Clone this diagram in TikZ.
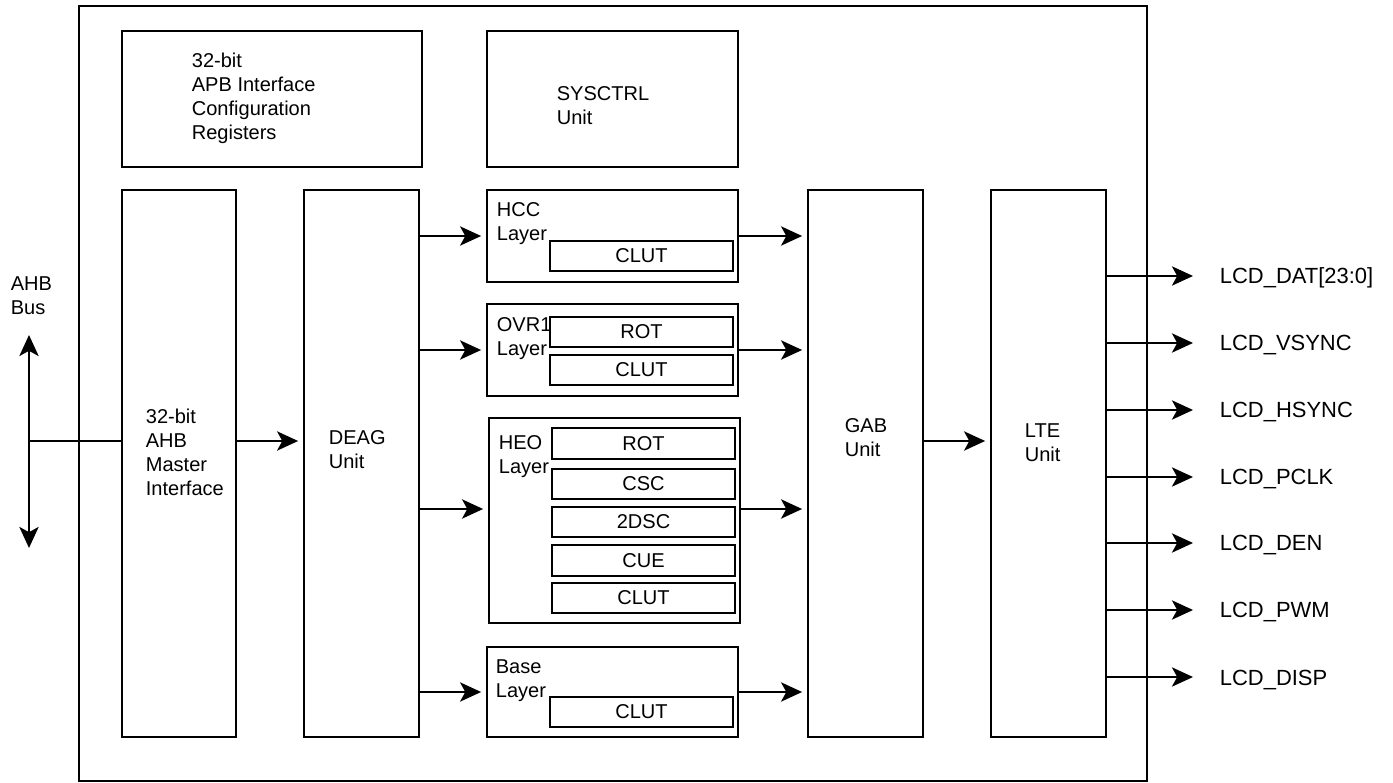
\documentclass[tikz,border=0pt]{standalone}
\usepackage{fontspec}
\setmainfont{Liberation Sans}
\usetikzlibrary{arrows.meta,positioning,fit}

\begin{document}
\begin{tikzpicture}[x=0.02cm, y=-0.02cm, line width=1pt,
    >={Stealth[length=12pt,width=11pt,inset=3pt]},
    every node/.style={font=\fontsize{11.4pt}{13.6pt}\selectfont},
    blk/.style={draw, inner sep=0pt},
    txt/.style={anchor=north west, inner sep=0pt, align=left},
    arr/.style={->, shorten >=0.1cm},
    sig/.style={anchor=base west, inner sep=0pt, font=\fontsize{12.5pt}{15pt}\selectfont}]
  \useasboundingbox (0,0) rectangle (1393,783);

  % controller frame
  \node[blk, fit={(79,6) (1147,781)}] (lcdc) {};

  % top row
  \node[blk, fit={(122,31) (422,167)}] (apb) {};
  \node[txt] (apbT) at (191,52) {32-bit\\APB Interface\\Configuration\\Registers};
  \node[blk, fit={(487,31) (738,167)}] (sysc) {};
  \node[txt] (syscT) at (556,86) {SYSCTRL\\Unit};

  % main data path
  \node[blk, fit={(122,190) (236,737)}] (ahb) {};
  \node[txt] (ahbT) at (145,408) {32-bit\\AHB\\Master\\Interface};
  \node[blk, fit={(304,190) (419,737)}] (deag) {};
  \node[txt] (deagT) at (328,430) {DEAG\\Unit};
  \node[blk, fit={(808,190) (923,737)}] (gab) {};
  \node[txt] (gabT) at (844,418) {GAB\\Unit};
  \node[blk, fit={(991,190) (1106,737)}] (lte) {};
  \node[txt] (lteT) at (1024,423) {LTE\\Unit};

  % layers
  \node[blk, fit={(487,190) (738,282)}] (hcc) {};
  \node[txt] (hccT) at (496,202) {HCC\\Layer};
  \node[blk, fit={(550,241) (733,271)}] (hccClut) {};
  \node (hccClutT) at (hccClut) {CLUT};

  \node[blk, fit={(487,304) (738,396)}] (ovr) {};
  \node[txt] (ovrT) at (496,317) {OVR1\\Layer};
  \node[blk, fit={(550,317) (733,347)}] (ovrRot) {};
  \node (ovrRotT) at (ovrRot) {ROT};
  \node[blk, fit={(550,355) (733,385)}] (ovrClut) {};
  \node (ovrClutT) at (ovrClut) {CLUT};

  \node[blk, fit={(489,418) (740,623)}] (heo) {};
  \node[txt] (heoT) at (498,435) {HEO\\Layer};
  \foreach \t/\b/\l in {428/459/ROT, 469/499/CSC, 507/537/2DSC, 545/576/CUE, 583/613/CLUT} {
    \node[blk, fit={(552,\t) (735,\b)}] (heo\l) {};
    \node (heo\l T) at (heo\l) {\l};
  }

  \node[blk, fit={(487,647) (738,737)}] (base) {};
  \node[txt] (baseT) at (495,659) {Base\\Layer};
  \node[blk, fit={(550,697) (733,727)}] (baseClut) {};
  \node (baseClutT) at (baseClut) {CLUT};

  % AHB bus
  \node[txt] (busT) at (10,276) {AHB\\Bus};
  \coordinate (busTop) at (29,335);
  \coordinate (busBot) at (29,548);
  \coordinate (busMid) at (29,441);
  \draw[<->] (busTop) -- (busBot);
  \draw (busMid) -- (busMid -| ahb.west);
  \draw[arr] (ahb.east |- busMid) -- (deag.west |- busMid);

  % layer connections
  \coordinate (heoY) at (0,509);
  \foreach \n in {hcc,ovr,base} {
    \draw[arr] (deag.east |- \n.west) -- (\n.west);
    \draw[arr] (\n.east) -- (\n.east -| gab.west);
  }
  \draw[arr] (deag.east |- heoY) -- (heo.west |- heoY);
  \draw[arr] (heo.east |- heoY) -- (gab.west |- heoY);
  \draw[arr] (gab.east |- busMid) -- (lte.west |- busMid);

  % LCD outputs
  \foreach \y/\s [count=\i] in {276/{LCD\_DAT[23:0]}, 343/LCD\_VSYNC, 410/LCD\_HSYNC,
      477/LCD\_PCLK, 543/LCD\_DEN, 610/LCD\_PWM, 677/LCD\_DISP} {
    \coordinate (out\i) at (1193,\y);
    \node[sig] (sig\i) at (1219,{\y+8}) {\s};
    \draw[->] (lte.east |- out\i) -- (out\i);
  }
\end{tikzpicture}
\end{document}
